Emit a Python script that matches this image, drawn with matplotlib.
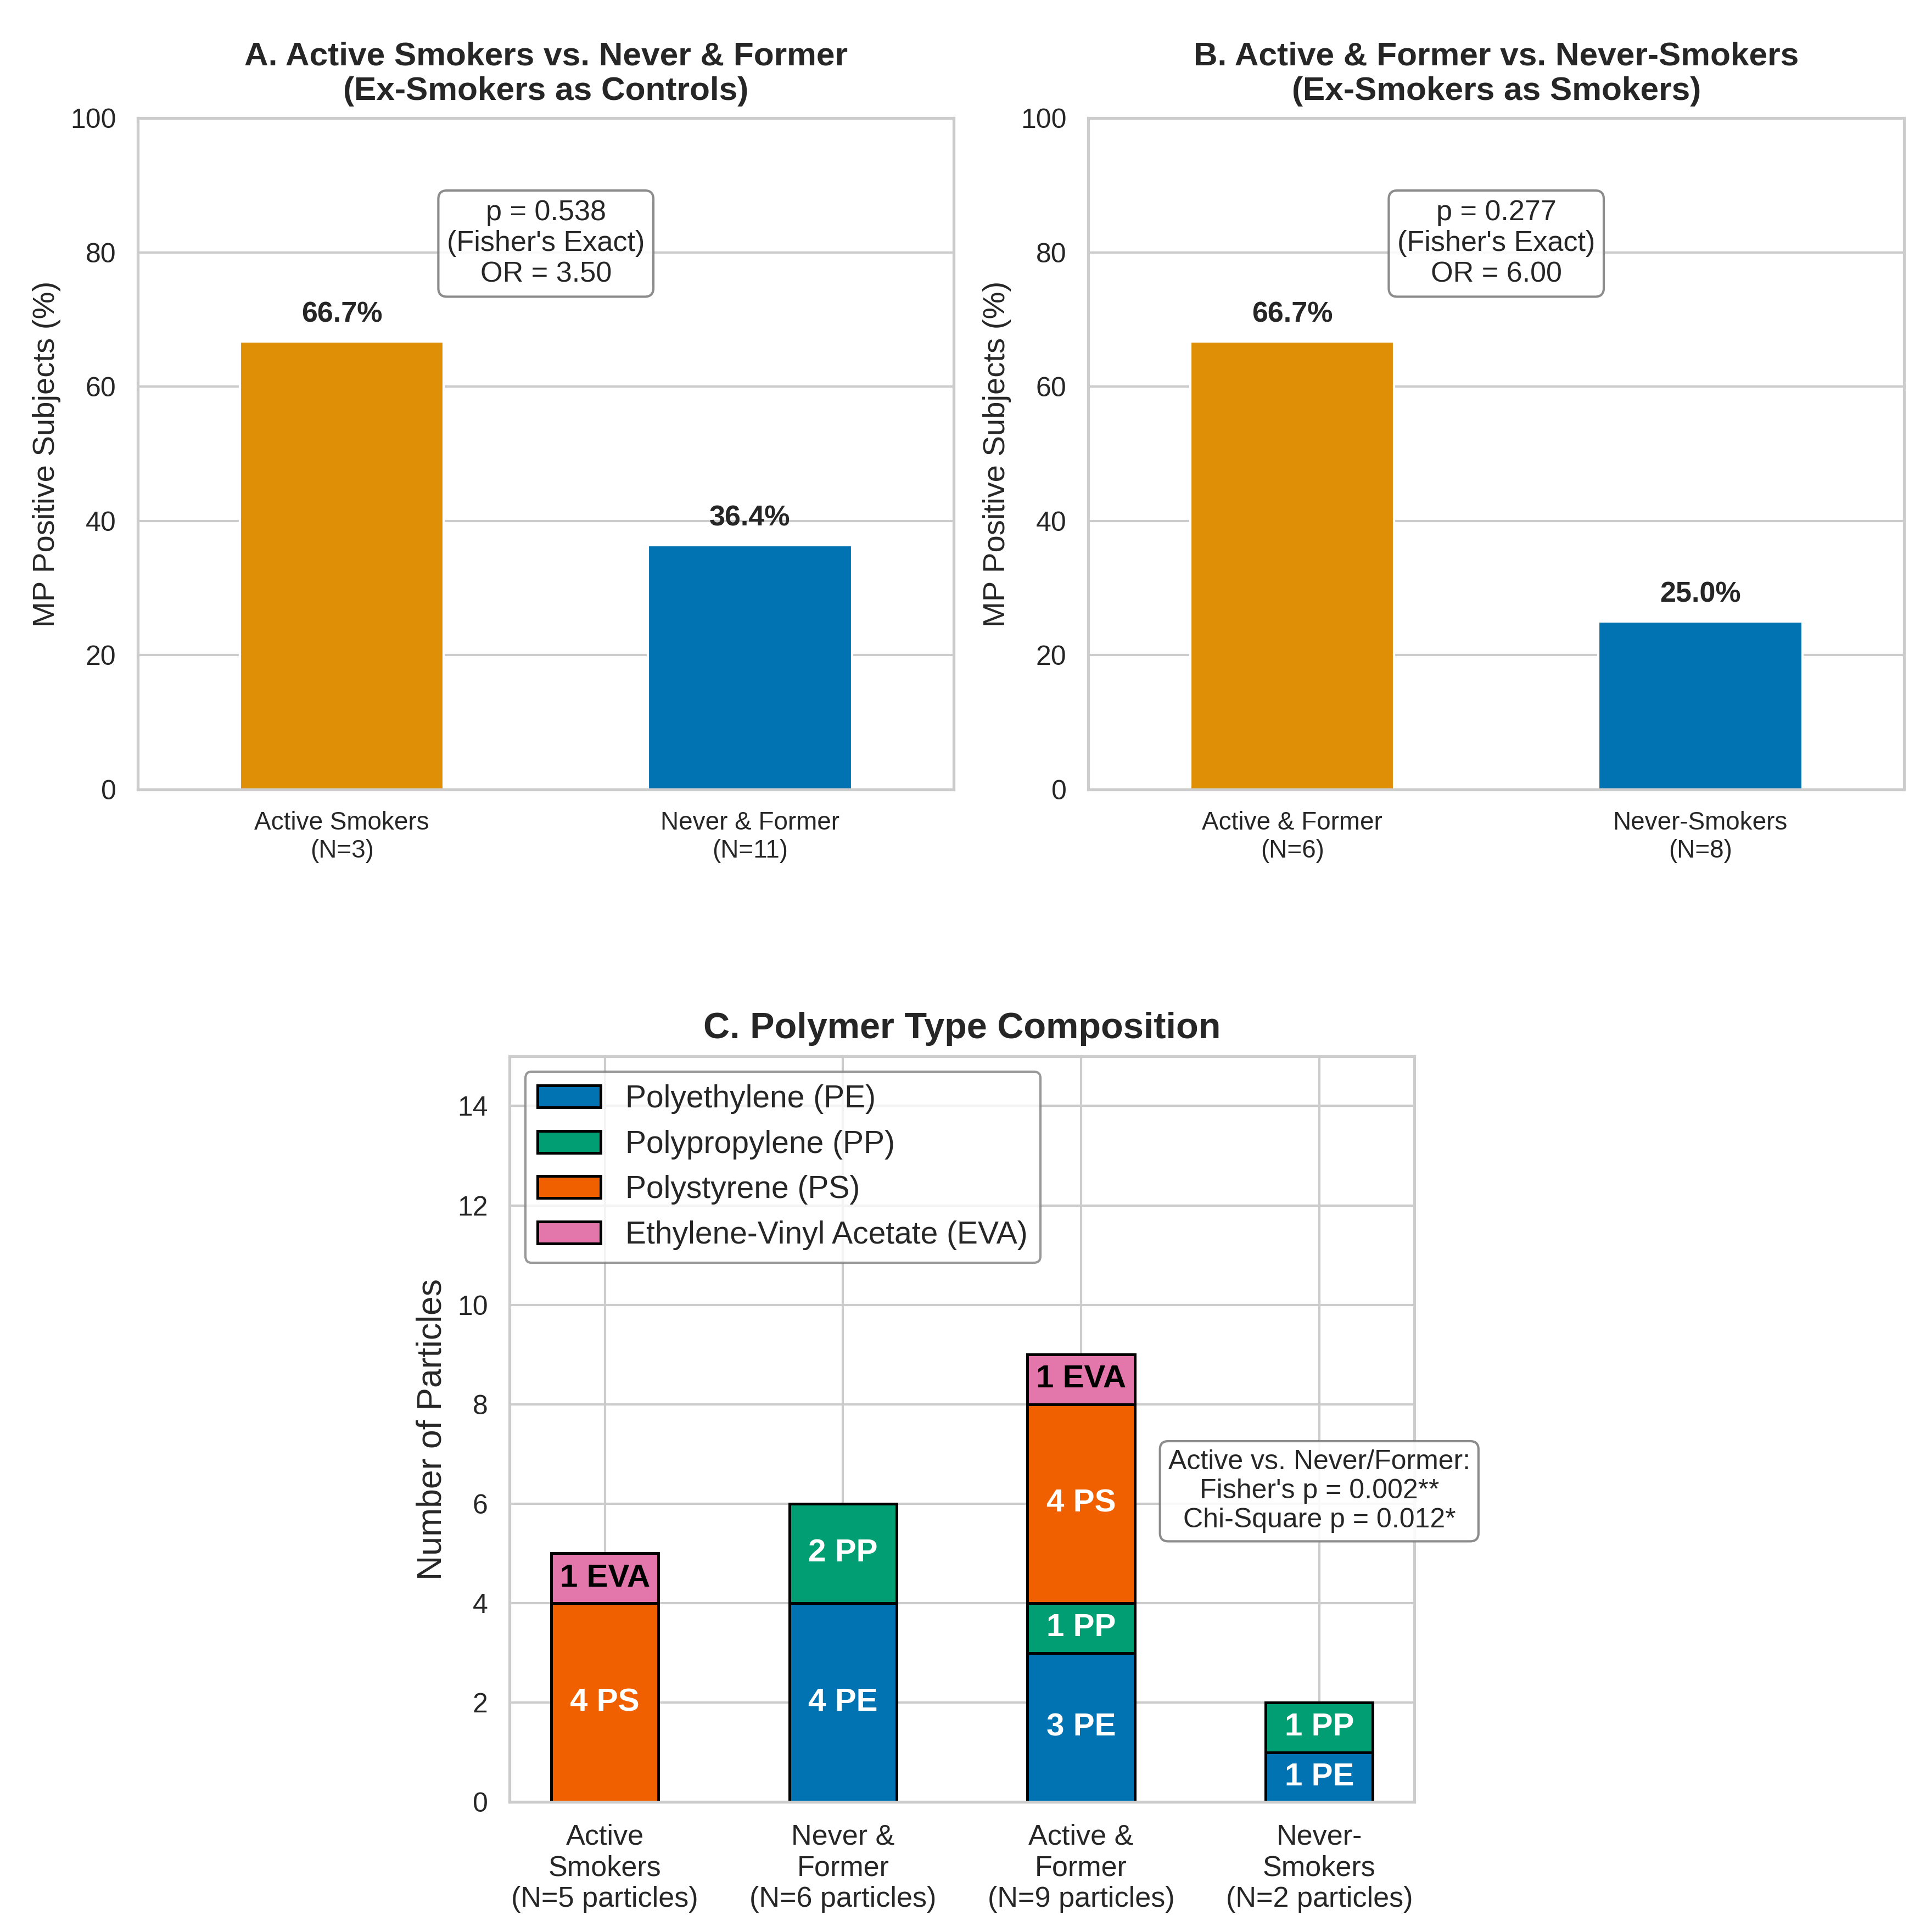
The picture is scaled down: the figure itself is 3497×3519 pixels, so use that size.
import matplotlib
matplotlib.use("Agg")
import matplotlib.pyplot as plt
import seaborn as sns
import numpy as np

sns.set_theme(style="whitegrid")
plt.rcParams['font.family'] = ['Liberation Sans', 'DejaVu Sans']
plt.rcParams['axes.edgecolor'] = '#cccccc'
plt.rcParams['grid.color'] = '#cccccc'

# panel A / B data
groups_a = ["Active Smokers\n(N=3)", "Never & Former\n(N=11)"]
pct_a = [66.7, 36.4]
stat_a = "p = 0.538\n(Fisher's Exact)\nOR = 3.50"

groups_b = ["Active & Former\n(N=6)", "Never-Smokers\n(N=8)"]
pct_b = [66.7, 25.0]
stat_b = "p = 0.277\n(Fisher's Exact)\nOR = 6.00"

# panel C data
groups_c = ["Active\nSmokers\n(N=5 particles)", "Never &\nFormer\n(N=6 particles)",
            "Active &\nFormer\n(N=9 particles)", "Never-\nSmokers\n(N=2 particles)"]
polymers = ["PE", "PP", "PS", "EVA"]
polymer_names = ["Polyethylene (PE)", "Polypropylene (PP)", "Polystyrene (PS)",
                 "Ethylene-Vinyl Acetate (EVA)"]
pe = [0, 4, 3, 1]
pp = [0, 2, 1, 1]
ps = [4, 0, 4, 0]
eva = [1, 0, 1, 0]
stat_c = "Active vs. Never/Former:\nFisher's p = 0.002**\nChi-Square p = 0.012*"

bar_colors = ['#DE8F05', '#0173B2']
poly_colors = ['#0173B2', '#029E73', '#F06000', '#E377AB']
label_colors = ['white', 'white', 'white', 'black']

fig = plt.figure(figsize=(3497 / 300, 3519 / 300), dpi=300)

def pct_panel(ax, groups, pct, stat, title):
    x = np.arange(len(groups))
    ax.bar(x, pct, width=0.5, color=bar_colors)
    for xi, v in zip(x, pct):
        ax.text(xi, v + 2, f"{v:.1f}%", ha='center', va='bottom',
                fontsize=12.5, fontweight='bold')
    ax.set_xlim(-0.5, 1.5)
    ax.set_ylim(0, 100)
    ax.set_xticks(x)
    ax.set_xticklabels(groups, fontsize=11)
    ax.tick_params(axis='y', labelsize=12)
    ax.set_ylabel("MP Positive Subjects (%)", fontsize=13.5)
    ax.set_title(title, fontsize=14.5, fontweight='bold', pad=8)
    ax.grid(axis='x', visible=False)
    ax.text(0.5, 0.813, stat, transform=ax.transAxes, ha='center', va='center',
            fontsize=12.5, bbox=dict(boxstyle='round,pad=0.3', facecolor='white',
                                     edgecolor='gray', alpha=0.9))

ax_a = fig.add_axes([0.0718, 0.5914, 0.4250, 0.3475])
pct_panel(ax_a, groups_a, pct_a, stat_a,
          "A. Active Smokers vs. Never & Former\n(Ex-Smokers as Controls)")

ax_b = fig.add_axes([0.5668, 0.5914, 0.4250, 0.3475])
pct_panel(ax_b, groups_b, pct_b, stat_b,
          "B. Active & Former vs. Never-Smokers\n(Ex-Smokers as Smokers)")

# panel C: stacked bars
ax_c = fig.add_axes([0.2654, 0.0673, 0.4713, 0.3860])
x = np.arange(len(groups_c))
bottom = np.zeros(len(groups_c))
for vals, name, short, col, tc in zip([pe, pp, ps, eva], polymer_names, polymers,
                                      poly_colors, label_colors):
    vals = np.array(vals)
    ax_c.bar(x, vals, width=0.45, bottom=bottom, color=col, edgecolor='black',
             linewidth=1.2, label=name)
    for xi, v, b in zip(x, vals, bottom):
        if v > 0:
            ax_c.text(xi, b + v / 2, f"{v} {short}", ha='center', va='center',
                      color=tc, fontsize=14, fontweight='bold')
    bottom += vals

ax_c.set_xlim(-0.4, 3.4)
ax_c.set_ylim(0, 15)
ax_c.set_xticks(x)
ax_c.set_xticklabels(groups_c, fontsize=12.5)
ax_c.tick_params(axis='y', labelsize=12)
ax_c.set_ylabel("Number of Particles", fontsize=15)
ax_c.set_title("C. Polymer Type Composition", fontsize=16, fontweight='bold', pad=8)
ax_c.legend(loc='upper left', fontsize=13.7, frameon=True, edgecolor='gray')
ax_c.text(3, 6.25, stat_c, ha='center', va='center', fontsize=12,
          bbox=dict(boxstyle='round,pad=0.3', facecolor='white',
                    edgecolor='gray', alpha=0.9))

fig.savefig("out.png", dpi=300)
plt.close(fig)
